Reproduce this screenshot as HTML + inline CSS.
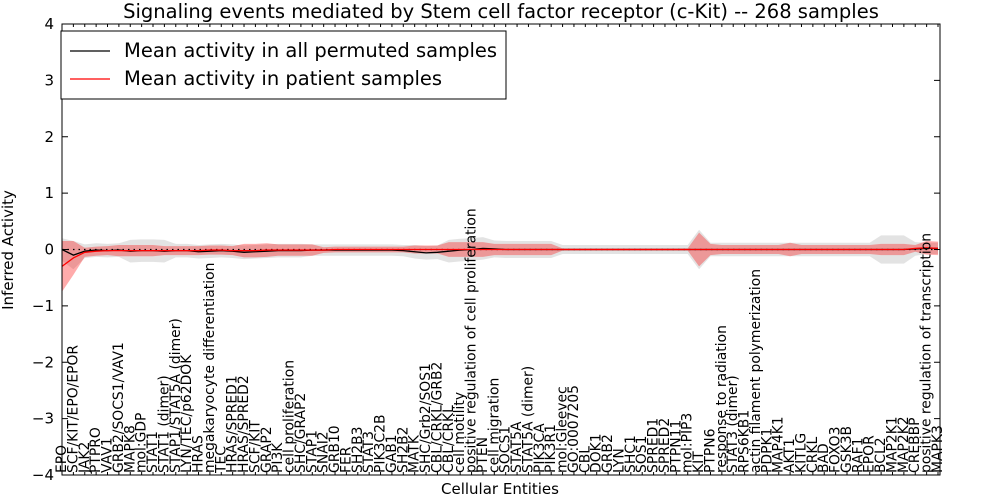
<!DOCTYPE html>
<html><head><meta charset="utf-8"><style>
body{margin:0;background:#fff}
svg{display:block;font-family:"DejaVu Sans","Liberation Sans",sans-serif}
</style></head><body>
<svg id="chart" width="1000" height="500"></svg>
<script>
const labels=["EPO","SCF/KIT/EPO/EPOR","JAK2","PTPRO","VAV1","GRB2/SOCS1/VAV1","MAPK8","mol:GDP","STAT1","STAT1 (dimer)","STAP1/STAT5A (dimer)","LYN/TEC/p62DOK","HRAS","megakaryocyte differentiation","TEC","HRAS/SPRED1","HRAS/SPRED2","SCF/KIT","GRAP2","PI3K","cell proliferation","SHC/GRAP2","STAP1","SNAI2","GRB10","FER","SH2B3","STAT3","PIK3C2B","GAB1","SH2B2","MATK","SHC/Grb2/SOS1","CBL/CRKL/GRB2","CBL/CRKL","cell motility","positive regulation of cell proliferation","PTEN","cell migration","SOCS1","STAT5A","STAT5A (dimer)","PIK3CA","PIK3R1","mol:Gleevec","GO:0007205","CBL","DOK1","GRB2","LYN","SHC1","SOS1","SPRED1","SPRED2","PTPN11","mol:PIP3","KIT","PTPN6","response to radiation","STAT3 (dimer)","RPS6KB1","actin filament polymerization","PDPK1","MAP4K1","AKT1","KITLG","CRKL","BAD","FOXO3","GSK3B","RAF1","EPOR","BCL2","MAP2K1","MAP2K2","CREBBP","positive regulation of transcription","MAPK3"];
const patientMean=[-0.3,-0.15,-0.05,-0.03,-0.02,-0.02,-0.02,-0.02,-0.02,-0.02,-0.02,-0.02,-0.02,-0.01,-0.01,-0.02,-0.02,-0.02,-0.01,-0.01,-0.01,-0.01,-0.01,-0.01,0,0,0,0,0,0,0,0,0,0,0,0,0,0,0,0,0,0,0,0,0,0,0,0,0,0,0,0,0,0,0,0,0,0,0,0,0,0,0,0,0,0,0,0,0,0,0,0,0,0,0,0.02,0.03,0.02];
const permutedMean=[0,-0.1,-0.03,-0.01,-0.02,-0.01,-0.03,-0.02,-0.02,-0.03,-0.02,-0.02,-0.04,-0.03,-0.02,-0.03,-0.05,-0.04,-0.03,-0.02,-0.02,-0.02,-0.01,-0.01,-0.01,-0.01,-0.01,-0.01,-0.01,-0.01,-0.02,-0.04,-0.06,-0.05,-0.03,-0.01,0,0.02,0.01,0,0,0,0,0,0,0,0,0,0,0,0,0,0,0,0,0,0,0,0,0,0,0,0,0,0,0,0,0,0,0,0,0,0,0,0,0.01,0.02,0.02];
const patientSpread=[0.45,0.3,0.08,0.08,0.08,0.1,0.1,0.1,0.1,0.08,0.08,0.08,0.08,0.08,0.08,0.08,0.12,0.12,0.12,0.1,0.1,0.1,0.1,0.05,0.05,0.05,0.05,0.05,0.05,0.05,0.05,0.07,0.07,0.07,0.13,0.13,0.13,0.13,0.1,0.1,0.1,0.1,0.1,0.1,0.02,0.02,0.02,0.02,0.02,0.02,0.02,0.02,0.02,0.02,0.02,0.02,0.3,0.1,0.08,0.08,0.08,0.08,0.08,0.08,0.12,0.08,0.08,0.08,0.08,0.08,0.08,0.08,0.1,0.1,0.1,0.06,0.12,0.12];
const permutedSpread=[0.2,0.25,0.12,0.12,0.12,0.12,0.2,0.2,0.2,0.2,0.12,0.12,0.12,0.12,0.12,0.12,0.12,0.12,0.12,0.12,0.12,0.12,0.1,0.1,0.1,0.1,0.1,0.1,0.1,0.1,0.1,0.12,0.12,0.12,0.2,0.2,0.2,0.2,0.15,0.15,0.15,0.15,0.15,0.15,0.08,0.08,0.08,0.08,0.08,0.08,0.08,0.08,0.08,0.08,0.08,0.08,0.35,0.12,0.12,0.12,0.12,0.12,0.12,0.12,0.12,0.12,0.12,0.12,0.12,0.12,0.12,0.12,0.25,0.25,0.25,0.12,0.1,0.1];
const yTicks=[-4,-3,-2,-1,0,1,2,3,4];

const NS="http://www.w3.org/2000/svg";
const svg=document.getElementById('chart');
const L=62,R=940,T=24,B=475;
const xs=i=>L+i*(R-2-L)/(labels.length-1);
const ys=v=>T+(4-v)*(B-T)/8;
function el(tag,attrs,parent){const e=document.createElementNS(NS,tag);for(const k in attrs)e.setAttribute(k,attrs[k]);(parent||svg).appendChild(e);return e;}
function band(mean,spread,fill,name){
  let up=mean.map((m,i)=>xs(i)+','+ys(m+spread[i]));
  let dn=mean.map((m,i)=>xs(i)+','+ys(m-spread[i])).reverse();
  const p=el('polygon',{points:up.concat(dn).join(' '),fill:fill,stroke:'none'});
  
  
}
band(permutedMean,permutedSpread,'rgba(200,200,200,0.5)','permuted-band');
band(patientMean,patientSpread,'rgba(255,0,0,0.33)','patient-band');
const zl=el('line',{x1:L,x2:R,y1:ys(0),y2:ys(0),stroke:'#000','stroke-dasharray':'1.5,4','stroke-width':1.2});


const pl=el('polyline',{points:permutedMean.map((m,i)=>xs(i)+','+ys(m)).join(' '),fill:'none',stroke:'#000','stroke-width':1.3});


const rl=el('polyline',{points:patientMean.map((m,i)=>xs(i)+','+ys(m)).join(' '),fill:'none',stroke:'#f00','stroke-width':1.3});


const fr=el('rect',{x:L,y:T,width:R-L,height:B-T,fill:'none',stroke:'#000','stroke-width':1});


yTicks.forEach(v=>{
  el('line',{x1:L,x2:L+6,y1:ys(v),y2:ys(v),stroke:'#000'});
  el('line',{x1:R-6,x2:R,y1:ys(v),y2:ys(v),stroke:'#000'});
  const t=el('text',{x:L-8,y:ys(v)+5,'text-anchor':'end','font-size':15});
  t.textContent=(v<0?'\u2212':'')+Math.abs(v);
  
  
});
labels.forEach((s,i)=>{
  const x=xs(i);
  el('line',{x1:x,x2:x,y1:B,y2:B-3,stroke:'#000'});
  el('line',{x1:x,x2:x,y1:T,y2:T+3,stroke:'#000'});
  const t=el('text',{transform:`translate(${x+4},${B-2}) rotate(-90)`,'font-size':13.9});
  t.textContent=s;
  
  
});
const ti=el('text',{x:501,y:18,'text-anchor':'middle','font-size':19.5});
ti.textContent='Signaling events mediated by Stem cell factor receptor (c-Kit) -- 268 samples';


const xt=el('text',{x:500,y:494,'text-anchor':'middle','font-size':15});
xt.textContent='Cellular Entities';


const yt=el('text',{transform:'translate(13,250) rotate(-90)','text-anchor':'middle','font-size':15});
yt.textContent='Inferred Activity';


const lg=el('g',{});


el('rect',{x:61,y:31,width:445,height:68,fill:'#fff',stroke:'#000'},lg);
[['Mean activity in all permuted samples','#000',51],['Mean activity in patient samples','#f00',79]].forEach(([s,c,y])=>{
  const g=el('g',{},lg);
  
  
  el('line',{x1:70,x2:110,y1:y,y2:y,stroke:c,'stroke-width':1.3},g);
  const t=el('text',{x:124,y:y+6,'font-size':19.5},g);
  t.textContent=s;
});
</script>
</body></html>
